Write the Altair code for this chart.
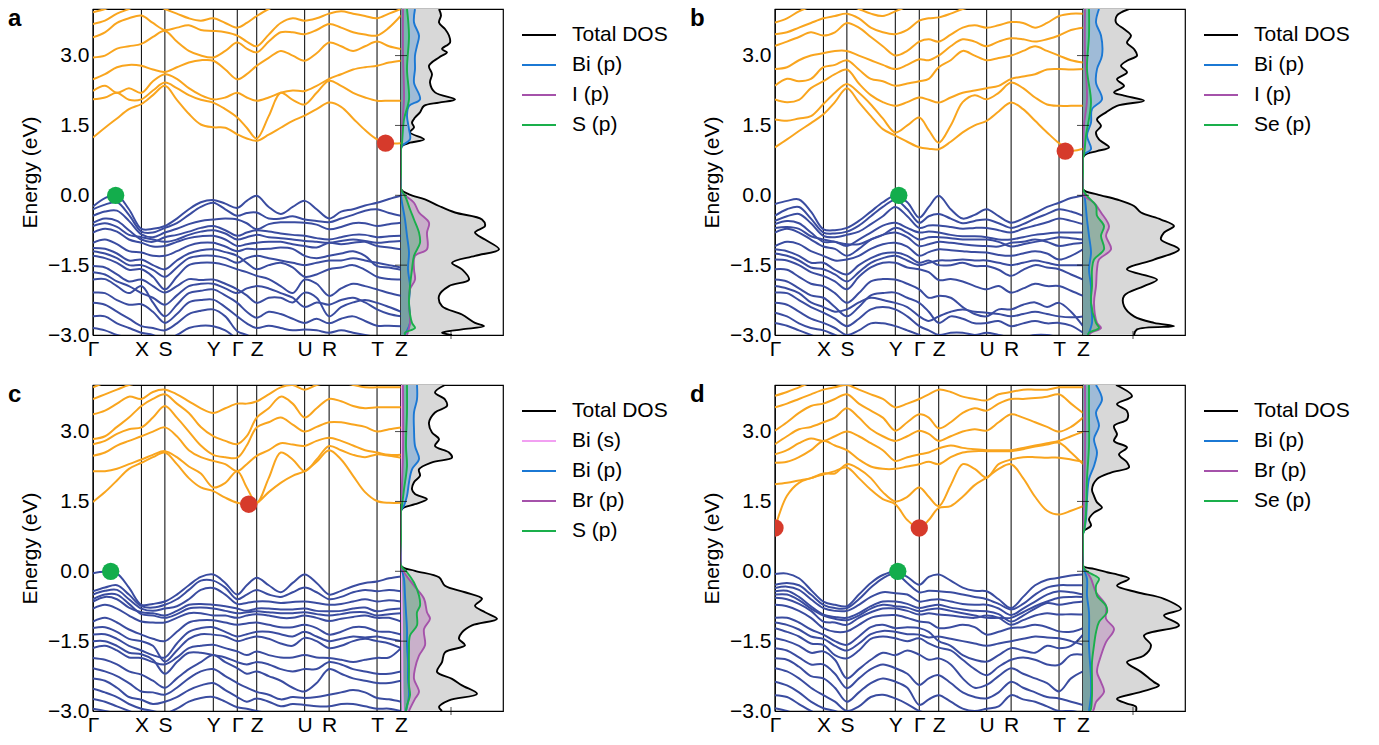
import altair as alt
import pandas as pd

# ---------------- k-path ----------------
K = [0, 12, 24, 36, 48.5, 60, 72, 84, 96, 108, 120.5, 132.5, 144.5, 154, 164,
     176, 188, 200, 212, 224, 236.5, 248.5, 260.5, 272.5, 284.5, 296.5, 308.5]
KPATH_POS = [0, 48.5, 72, 120.5, 144.5, 164, 212, 236.5, 284.5, 308.5]
KPATH_LBL = ["Γ", "X", "S", "Y", "Γ", "Z", "U", "R", "T", "Z"]
E_TICKS = [-3.0, -1.5, 0.0, 1.5, 3.0]
DOS_TICKS = [-1.5, 0.0, 1.5, 3.0]
DOS_XTICK = [50]

# ---------------- panel a bands ----------------
A_VB = [
    [-0.24,-0.06,0.00,-0.30,-0.72,-0.72,-0.66,-0.50,-0.30,-0.15,-0.10,-0.18,-0.27,-0.12,-0.01,-0.25,-0.40,-0.25,-0.12,-0.30,-0.50,-0.35,-0.30,-0.22,-0.16,-0.08,-0.01],
    [-0.30,-0.20,-0.15,-0.42,-0.78,-0.80,-0.70,-0.60,-0.42,-0.25,-0.16,-0.30,-0.44,-0.38,-0.37,-0.50,-0.50,-0.45,-0.52,-0.55,-0.58,-0.50,-0.42,-0.33,-0.30,-0.38,-0.44],
    [-0.44,-0.35,-0.33,-0.55,-0.84,-0.90,-0.80,-0.72,-0.62,-0.55,-0.52,-0.50,-0.52,-0.60,-0.73,-0.62,-0.58,-0.58,-0.59,-0.63,-0.73,-0.68,-0.60,-0.60,-0.66,-0.62,-0.59],
    [-0.59,-0.50,-0.55,-0.75,-0.95,-1.00,-0.90,-0.85,-0.78,-0.70,-0.66,-0.75,-0.87,-0.80,-0.75,-0.78,-0.82,-0.85,-0.87,-0.92,-0.95,-0.90,-0.85,-0.85,-0.90,-0.88,-0.87],
    [-0.66,-0.60,-0.68,-0.85,-0.90,-0.95,-1.00,-0.95,-0.85,-0.78,-0.75,-0.82,-0.95,-0.90,-0.85,-0.90,-0.92,-0.95,-0.98,-1.00,-1.02,-0.98,-0.95,-0.98,-1.02,-1.00,-0.98],
    [-0.80,-0.72,-0.78,-0.95,-1.02,-1.10,-1.09,-1.00,-0.92,-0.88,-0.87,-0.95,-1.09,-1.05,-1.02,-1.00,-1.00,-1.05,-1.09,-1.12,-1.02,-1.05,-1.02,-1.00,-1.09,-1.12,-1.16],
    [-1.02,-0.95,-1.05,-1.20,-1.23,-1.30,-1.30,-1.20,-1.08,-1.02,-1.02,-1.10,-1.20,-1.15,-1.16,-1.15,-1.12,-1.15,-1.30,-1.35,-1.30,-1.25,-1.20,-1.30,-1.52,-1.55,-1.60],
    [-1.13,-1.15,-1.25,-1.40,-1.38,-1.50,-1.59,-1.40,-1.25,-1.18,-1.16,-1.22,-1.30,-1.45,-1.59,-1.50,-1.45,-1.55,-1.75,-1.70,-1.59,-1.55,-1.50,-1.60,-1.75,-1.80,-1.81],
    [-1.20,-1.25,-1.35,-1.50,-1.50,-1.60,-1.75,-1.55,-1.35,-1.30,-1.30,-1.35,-1.45,-1.35,-1.30,-1.35,-1.40,-1.45,-1.50,-1.45,-1.40,-1.40,-1.35,-1.40,-1.45,-1.50,-1.55],
    [-1.30,-1.35,-1.45,-1.60,-1.59,-1.75,-2.02,-1.75,-1.50,-1.45,-1.45,-1.50,-1.59,-1.65,-1.73,-1.80,-1.95,-2.10,-1.81,-1.90,-2.16,-2.00,-1.90,-1.95,-2.02,-2.10,-2.16],
    [-1.52,-1.55,-1.70,-1.85,-1.81,-1.95,-2.09,-1.95,-1.80,-1.82,-1.81,-1.90,-2.02,-2.15,-2.31,-2.20,-2.20,-2.30,-2.09,-2.20,-2.60,-2.40,-2.30,-2.25,-2.31,-2.40,-2.50],
    [-1.65,-1.70,-1.85,-1.95,-2.10,-2.20,-2.35,-2.15,-1.95,-1.90,-1.90,-2.00,-2.10,-2.00,-1.95,-2.00,-2.10,-2.20,-2.40,-2.30,-2.35,-2.25,-2.20,-2.30,-2.45,-2.55,-2.60],
    [-1.81,-1.80,-1.95,-2.10,-1.95,-2.30,-2.60,-2.35,-2.10,-2.05,-2.02,-2.15,-2.31,-2.50,-2.63,-2.50,-2.55,-2.65,-2.74,-2.65,-2.75,-2.65,-2.60,-2.70,-2.80,-2.80,-2.81],
    [-2.09,-2.10,-2.25,-2.35,-2.34,-2.50,-2.74,-2.55,-2.30,-2.25,-2.24,-2.40,-2.60,-2.75,-2.85,-2.80,-2.85,-2.90,-2.88,-2.90,-2.95,-2.90,-2.95,-3.00,-3.05,-3.10,-3.10],
    [-2.31,-2.35,-2.50,-2.65,-2.81,-2.85,-2.90,-2.75,-2.55,-2.48,-2.45,-2.60,-2.92,-3.00,-3.10],
    [-2.60,-2.60,-2.75,-2.85,-2.95,-3.00,-3.10,-3.00,-2.85,-2.80,-2.81,-2.90,-3.10],
    [-2.85,-2.90,-3.00,-3.05,-3.10],
]
A_CB = [
    [1.24,1.45,1.65,1.85,1.96,2.15,2.35,2.05,1.75,1.52,1.46,1.45,1.31,1.22,1.17,1.30,1.45,1.60,1.71,1.85,1.99,1.90,1.65,1.40,1.20,1.12,1.12],
    [2.06,2.10,2.20,2.05,2.06,2.25,2.42,2.30,2.15,2.05,1.99,1.85,1.67,1.45,1.22,1.70,2.20,2.05,1.95,2.20,2.46,2.35,2.20,2.10,2.03,2.03,2.03],
    [2.24,2.35,2.20,2.30,2.20,2.45,2.60,2.50,2.30,2.15,2.06,2.10,2.20,2.10,2.03,2.10,2.20,2.25,2.24,2.35,2.50,2.60,2.70,2.75,2.78,2.85,2.89],
    [2.49,2.60,2.75,2.80,2.78,2.70,2.65,2.75,2.85,2.90,2.89,2.70,2.49,2.60,2.78,2.95,3.10,3.00,2.89,3.05,3.28,3.20,3.10,3.20,3.30,3.20,3.14],
    [2.96,3.00,3.15,3.20,3.25,3.40,3.53,3.30,3.10,3.00,2.96,3.10,3.28,3.15,3.07,3.30,3.50,3.50,3.46,3.55,3.68,3.60,3.50,3.45,3.43,3.60,3.86],
    [3.39,3.50,3.70,3.80,3.86,3.70,3.55,3.60,3.65,3.55,3.53,3.50,3.43,3.30,3.20,3.45,3.70,3.80,3.75,3.80,3.90,3.95,3.90,3.85,3.80,3.90,4.00],
    [3.68,3.75,3.90,4.00,4.10,4.10,4.00,3.90,3.80,3.75,3.80,3.70,3.60,3.70,3.85,4.00,4.10],
    [3.93,4.00,4.10],
]
A_VBM = [22.7, 0.0]
A_CBM = [[293.0, 1.12]]

# ---------------- panel b bands ----------------
B_VB = [
    [-0.19,-0.12,-0.09,-0.35,-0.73,-0.75,-0.70,-0.55,-0.35,-0.15,-0.01,-0.15,-0.48,-0.25,-0.01,-0.30,-0.50,-0.42,-0.30,-0.45,-0.59,-0.50,-0.38,-0.25,-0.16,-0.06,-0.01],
    [-0.44,-0.30,-0.25,-0.50,-0.80,-0.82,-0.78,-0.65,-0.45,-0.25,-0.10,-0.30,-0.59,-0.45,-0.40,-0.50,-0.60,-0.55,-0.52,-0.60,-0.70,-0.62,-0.50,-0.40,-0.30,-0.35,-0.44],
    [-0.55,-0.45,-0.40,-0.60,-0.87,-0.90,-0.85,-0.78,-0.62,-0.45,-0.25,-0.45,-0.70,-0.65,-0.65,-0.68,-0.72,-0.70,-0.70,-0.75,-0.80,-0.72,-0.65,-0.58,-0.50,-0.55,-0.62],
    [-0.62,-0.55,-0.60,-0.80,-1.00,-1.00,-1.09,-0.95,-0.80,-0.65,-0.59,-0.70,-0.80,-0.78,-0.80,-0.85,-0.88,-0.88,-0.90,-0.95,-0.95,-0.90,-0.85,-0.82,-0.80,-0.80,-0.80],
    [-0.70,-0.68,-0.72,-0.88,-0.95,-1.00,-1.05,-1.05,-0.95,-0.85,-0.70,-0.80,-0.95,-0.90,-0.90,-0.92,-0.95,-0.95,-0.95,-1.00,-1.10,-1.05,-1.00,-0.95,-0.90,-0.92,-0.95],
    [-0.80,-0.72,-0.80,-0.95,-1.10,-1.15,-1.30,-1.15,-0.95,-0.85,-0.80,-0.90,-1.09,-1.05,-1.00,-1.02,-1.05,-1.08,-1.09,-1.10,-1.02,-1.00,-0.95,-1.00,-1.09,-1.05,-1.02],
    [-1.09,-1.00,-1.05,-1.20,-1.30,-1.40,-1.38,-1.30,-1.15,-1.05,-1.02,-1.10,-1.30,-1.22,-1.16,-1.18,-1.20,-1.22,-1.23,-1.28,-1.30,-1.25,-1.20,-1.25,-1.38,-1.30,-1.16],
    [-1.16,-1.20,-1.30,-1.45,-1.45,-1.60,-1.70,-1.50,-1.35,-1.25,-1.23,-1.30,-1.45,-1.40,-1.50,-1.50,-1.45,-1.52,-1.52,-1.60,-1.73,-1.60,-1.50,-1.55,-1.59,-1.70,-1.81],
    [-1.25,-1.30,-1.40,-1.55,-1.59,-1.70,-1.85,-1.65,-1.45,-1.35,-1.30,-1.40,-1.50,-1.45,-1.40,-1.40,-1.38,-1.40,-1.40,-1.45,-1.50,-1.45,-1.40,-1.45,-1.50,-1.50,-1.50],
    [-1.38,-1.40,-1.50,-1.65,-1.73,-1.85,-2.02,-1.75,-1.55,-1.45,-1.45,-1.55,-1.59,-1.65,-1.82,-1.80,-1.85,-1.95,-2.02,-1.95,-2.09,-2.00,-1.90,-1.95,-1.95,-2.05,-2.16],
    [-1.59,-1.60,-1.75,-1.90,-1.95,-2.10,-2.31,-2.10,-1.85,-1.80,-1.81,-1.90,-2.02,-2.20,-2.16,-2.20,-2.40,-2.55,-2.60,-2.45,-2.45,-2.35,-2.30,-2.40,-2.31,-2.50,-2.81],
    [-1.81,-1.85,-2.00,-2.15,-2.20,-2.40,-2.60,-2.40,-2.15,-2.10,-2.09,-2.20,-2.31,-2.50,-2.74,-2.60,-2.65,-2.75,-2.74,-2.70,-2.81,-2.75,-2.70,-2.75,-2.74,-2.80,-2.95],
    [-1.95,-2.00,-2.10,-2.30,-2.40,-2.50,-2.45,-2.30,-2.20,-2.25,-2.31,-2.40,-2.60,-2.70,-2.60,-2.50,-2.45,-2.50,-2.52,-2.55,-2.60,-2.55,-2.50,-2.55,-2.60,-2.62,-2.60],
    [-2.09,-2.10,-2.25,-2.40,-2.52,-2.65,-2.81,-2.65,-2.45,-2.40,-2.45,-2.60,-2.81,-2.90,-3.00,-2.95,-2.95,-3.00,-2.95,-3.00,-3.05,-3.05,-3.00,-3.00,-3.05,-3.10,-3.10],
    [-2.31,-2.35,-2.50,-2.65,-2.74,-2.85,-3.00,-2.90,-2.75,-2.75,-2.81,-2.90,-3.00,-3.10],
    [-2.52,-2.60,-2.75,-2.85,-2.90,-3.00,-3.10],
    [-2.74,-2.80,-2.90,-3.00,-3.10],
]
B_CB = [
    [1.03,1.20,1.38,1.55,1.74,2.00,2.30,2.00,1.70,1.42,1.28,1.15,1.03,1.00,0.99,1.15,1.35,1.50,1.60,1.80,1.99,1.85,1.60,1.35,1.12,0.96,1.00],
    [1.63,1.60,1.65,1.70,1.96,2.20,2.39,2.20,1.95,1.65,1.35,1.50,1.67,1.40,1.13,1.50,2.00,2.15,2.06,2.20,2.42,2.30,2.10,1.95,1.92,1.92,1.92],
    [2.06,2.00,2.05,2.30,2.45,2.60,2.70,2.40,2.15,2.00,1.92,2.00,2.10,2.05,1.99,2.10,2.20,2.25,2.30,2.35,2.50,2.55,2.60,2.70,2.71,2.70,2.71],
    [2.35,2.50,2.45,2.50,2.75,2.80,2.90,2.70,2.50,2.45,2.35,2.40,2.45,2.50,2.75,2.90,3.10,3.00,2.90,2.95,3.00,3.10,3.20,3.10,3.00,2.90,2.85],
    [2.71,2.75,2.90,3.00,3.05,3.10,3.10,3.00,2.90,2.80,2.71,2.80,2.92,2.90,3.00,3.20,3.35,3.30,3.20,3.30,3.37,3.35,3.30,3.35,3.43,3.55,3.60],
    [3.21,3.30,3.40,3.50,3.43,3.50,3.70,3.60,3.40,3.20,3.00,3.10,3.30,3.35,3.30,3.45,3.60,3.65,3.60,3.65,3.72,3.70,3.60,3.70,3.85,3.90,3.90],
    [3.46,3.50,3.60,3.70,3.80,3.85,3.90,3.80,3.60,3.50,3.46,3.55,3.75,3.80,3.82,3.90,4.00,4.05,4.05,4.05,4.05,4.10],
    [3.71,3.80,3.95,4.05,4.10,4.10,4.10,4.00,3.90,3.85,3.95,4.05,4.10],
]
B_VBM = [124.0, 0.0]
B_CBM = [[290.7, 0.95]]

# ---------------- panel c bands ----------------
C_VB = [
    [-0.04,-0.01,-0.05,-0.35,-0.72,-0.70,-0.65,-0.50,-0.30,-0.12,-0.07,-0.25,-0.50,-0.30,-0.14,-0.30,-0.45,-0.25,-0.07,-0.25,-0.50,-0.42,-0.32,-0.25,-0.22,-0.15,-0.11],
    [-0.43,-0.35,-0.30,-0.50,-0.75,-0.78,-0.72,-0.60,-0.40,-0.20,-0.20,-0.35,-0.60,-0.50,-0.40,-0.50,-0.55,-0.45,-0.35,-0.45,-0.60,-0.55,-0.45,-0.40,-0.43,-0.40,-0.43],
    [-0.50,-0.42,-0.40,-0.60,-0.80,-0.85,-0.80,-0.75,-0.60,-0.40,-0.36,-0.50,-0.70,-0.68,-0.65,-0.65,-0.68,-0.66,-0.65,-0.68,-0.72,-0.70,-0.65,-0.60,-0.65,-0.62,-0.65],
    [-0.60,-0.50,-0.50,-0.70,-0.92,-0.95,-1.00,-0.92,-0.80,-0.78,-0.80,-0.85,-0.90,-0.88,-0.86,-0.88,-0.90,-0.90,-0.88,-0.92,-0.95,-0.92,-0.88,-0.88,-0.95,-0.92,-0.90],
    [-0.65,-0.55,-0.60,-0.78,-0.88,-0.90,-0.95,-0.85,-0.72,-0.70,-0.72,-0.75,-0.80,-0.85,-0.80,-0.80,-0.82,-0.82,-0.80,-0.85,-0.86,-0.85,-0.80,-0.78,-0.86,-0.82,-0.80],
    [-0.80,-0.72,-0.80,-0.95,-1.08,-1.10,-1.10,-1.00,-0.90,-0.90,-0.95,-0.95,-1.00,-0.95,-0.92,-0.95,-1.00,-1.00,-0.95,-1.00,-1.07,-1.02,-0.98,-0.95,-1.00,-1.00,-1.08],
    [-1.08,-1.00,-1.10,-1.25,-1.36,-1.45,-1.50,-1.30,-1.10,-1.05,-1.05,-1.10,-1.15,-1.12,-1.10,-1.15,-1.20,-1.20,-1.15,-1.22,-1.36,-1.30,-1.20,-1.20,-1.29,-1.30,-1.36],
    [-1.22,-1.20,-1.30,-1.45,-1.50,-1.60,-1.94,-1.70,-1.45,-1.35,-1.36,-1.40,-1.50,-1.45,-1.40,-1.45,-1.55,-1.60,-1.43,-1.50,-1.65,-1.60,-1.50,-1.45,-1.50,-1.55,-1.65],
    [-1.36,-1.35,-1.45,-1.60,-1.70,-1.80,-1.85,-1.55,-1.30,-1.22,-1.20,-1.30,-1.40,-1.35,-1.30,-1.30,-1.35,-1.40,-1.30,-1.40,-1.50,-1.45,-1.40,-1.42,-1.40,-1.45,-1.50],
    [-1.50,-1.50,-1.60,-1.75,-1.78,-1.90,-2.20,-1.95,-1.75,-1.75,-1.80,-1.85,-1.95,-2.00,-1.95,-2.00,-2.10,-2.15,-2.10,-2.10,-1.95,-2.00,-2.10,-2.15,-2.20,-2.20,-2.15],
    [-1.65,-1.60,-1.70,-1.85,-1.86,-1.95,-2.00,-1.85,-1.65,-1.60,-1.58,-1.65,-1.72,-1.80,-1.72,-1.80,-1.85,-1.85,-1.80,-1.85,-1.86,-1.90,-1.95,-1.90,-1.86,-1.85,-1.65],
    [-1.86,-1.90,-2.00,-2.15,-2.22,-2.35,-2.50,-2.30,-2.10,-1.95,-1.80,-1.95,-2.08,-2.20,-2.15,-2.25,-2.35,-2.50,-2.58,-2.40,-2.10,-2.20,-2.30,-2.35,-2.40,-2.40,-2.35],
    [-2.08,-2.15,-2.25,-2.40,-2.58,-2.60,-2.65,-2.50,-2.30,-2.15,-2.10,-2.25,-2.40,-2.50,-2.59,-2.65,-2.75,-2.70,-2.72,-2.70,-2.65,-2.60,-2.55,-2.60,-2.72,-2.75,-2.80],
    [-2.30,-2.35,-2.50,-2.70,-2.76,-2.85,-2.80,-2.70,-2.55,-2.45,-2.40,-2.55,-2.70,-2.80,-2.73,-2.80,-2.90,-2.85,-2.87,-2.90,-2.90,-2.85,-2.85,-2.90,-2.95,-2.95,-3.00],
    [-2.52,-2.60,-2.70,-2.85,-2.95,-3.00,-3.05,-2.95,-2.80,-2.72,-2.70,-2.80,-2.92,-2.95,-3.00,-3.05,-3.10],
    [-2.74,-2.80,-2.90,-3.00,-3.10],
    [-2.95,-3.00,-3.05,-3.10],
]
C_CB = [
    [1.49,1.70,1.95,2.20,2.33,2.45,2.55,2.30,2.00,1.80,1.72,1.58,1.47,1.44,1.47,1.70,1.90,2.05,2.15,2.35,2.60,2.40,2.05,1.70,1.51,1.47,1.47],
    [2.15,2.15,2.20,2.30,2.40,2.50,2.58,2.45,2.25,2.10,1.80,1.90,2.15,1.80,1.47,2.00,2.55,2.40,2.15,2.40,2.69,2.60,2.50,2.45,2.51,2.48,2.44],
    [2.48,2.55,2.70,2.80,2.90,3.00,3.09,2.90,2.60,2.45,2.37,2.30,2.15,2.30,2.48,2.60,2.75,2.72,2.69,2.80,2.87,2.80,2.70,2.60,2.55,2.50,2.50],
    [2.73,2.80,2.95,3.05,3.09,3.30,3.55,3.30,3.00,2.70,2.50,2.45,2.44,2.70,3.09,3.20,3.30,3.15,3.00,3.10,3.20,3.20,3.15,3.10,3.00,3.05,3.09],
    [2.84,2.90,3.10,3.30,3.55,3.70,3.80,3.60,3.40,3.10,2.90,2.80,2.73,2.90,3.30,3.50,3.75,3.60,3.30,3.50,3.70,3.65,3.55,3.50,3.52,3.52,3.52],
    [3.37,3.45,3.60,3.75,3.70,3.85,3.90,3.80,3.65,3.50,3.40,3.50,3.60,3.60,3.65,3.80,3.95,4.00,3.90,4.00,4.05,4.05,4.00,3.95,3.95,3.95,3.95],
    [3.70,3.80,3.90,4.00,4.05,4.10],
    [3.95,4.05,4.10],
]
C_VBM = [17.7, 0.0]
C_CBM = [[156.0, 1.44]]

# ---------------- panel d bands ----------------
D_VB = [
    [-0.06,-0.05,-0.15,-0.40,-0.65,-0.72,-0.75,-0.50,-0.25,-0.08,-0.01,-0.12,-0.29,-0.12,-0.07,-0.20,-0.35,-0.42,-0.43,-0.60,-0.79,-0.55,-0.30,-0.18,-0.14,-0.09,-0.07],
    [-0.29,-0.25,-0.30,-0.50,-0.72,-0.79,-0.79,-0.60,-0.35,-0.15,-0.05,-0.25,-0.45,-0.42,-0.43,-0.45,-0.50,-0.55,-0.60,-0.70,-0.82,-0.70,-0.50,-0.35,-0.30,-0.30,-0.30],
    [-0.36,-0.33,-0.40,-0.60,-0.79,-0.85,-0.85,-0.72,-0.55,-0.45,-0.47,-0.50,-0.65,-0.62,-0.60,-0.65,-0.70,-0.72,-0.72,-0.80,-0.94,-0.80,-0.65,-0.50,-0.43,-0.45,-0.50],
    [-0.43,-0.42,-0.55,-0.75,-0.93,-0.98,-1.00,-0.90,-0.75,-0.65,-0.65,-0.70,-0.79,-0.75,-0.72,-0.78,-0.82,-0.85,-0.86,-0.92,-1.08,-0.95,-0.80,-0.68,-0.72,-0.68,-0.65],
    [-0.50,-0.50,-0.62,-0.80,-0.95,-1.02,-1.05,-0.95,-0.80,-0.72,-0.75,-0.78,-0.86,-0.82,-0.80,-0.85,-0.90,-0.95,-1.00,-1.00,-1.00,-0.88,-0.75,-0.65,-0.57,-0.55,-0.55],
    [-0.57,-0.60,-0.70,-0.85,-1.08,-1.10,-1.15,-1.00,-0.88,-0.80,-0.80,-0.85,-0.93,-0.90,-0.93,-0.95,-0.98,-1.00,-0.95,-1.00,-1.15,-1.05,-0.95,-0.90,-0.93,-0.92,-0.93],
    [-0.72,-0.75,-0.85,-1.00,-1.22,-1.30,-1.29,-1.15,-1.00,-0.95,-0.94,-1.00,-1.08,-1.10,-1.22,-1.20,-1.15,-1.20,-1.36,-1.30,-1.22,-1.20,-1.15,-1.20,-1.29,-1.30,-1.22],
    [-1.00,-1.00,-1.10,-1.25,-1.36,-1.50,-1.58,-1.40,-1.20,-1.15,-1.22,-1.20,-1.22,-1.30,-1.50,-1.60,-1.80,-1.90,-1.94,-1.80,-1.65,-1.70,-1.75,-1.60,-1.65,-1.60,-1.36],
    [-1.10,-1.15,-1.25,-1.40,-1.45,-1.60,-1.70,-1.55,-1.35,-1.28,-1.30,-1.35,-1.36,-1.42,-1.40,-1.45,-1.50,-1.55,-1.60,-1.55,-1.50,-1.45,-1.40,-1.42,-1.44,-1.50,-1.58],
    [-1.22,-1.30,-1.40,-1.55,-1.58,-1.80,-1.87,-1.70,-1.45,-1.40,-1.44,-1.50,-1.44,-1.55,-1.64,-1.70,-1.90,-2.10,-2.23,-2.05,-1.90,-1.85,-1.90,-2.00,-2.01,-1.80,-1.79],
    [-1.44,-1.50,-1.60,-1.75,-1.72,-1.90,-2.30,-2.10,-1.90,-1.75,-1.80,-1.70,-1.79,-1.90,-1.87,-2.00,-2.30,-2.50,-2.44,-2.25,-2.08,-2.20,-2.30,-2.40,-2.58,-2.30,-2.15],
    [-1.65,-1.70,-1.85,-2.00,-2.00,-2.20,-2.51,-2.30,-2.10,-2.00,-2.08,-2.20,-2.44,-2.30,-2.23,-2.40,-2.60,-2.70,-2.73,-2.60,-2.37,-2.50,-2.60,-2.70,-2.73,-2.80,-2.87],
    [-1.87,-1.90,-2.05,-2.25,-2.30,-2.50,-2.80,-2.60,-2.40,-2.30,-2.37,-2.50,-2.87,-2.75,-2.66,-2.80,-2.95,-3.00,-2.95,-2.90,-2.66,-2.75,-2.80,-2.90,-3.00,-3.00,-3.05],
    [-2.08,-2.15,-2.30,-2.50,-2.66,-2.80,-3.00,-2.90,-2.70,-2.65,-2.73,-2.85,-3.00,-3.05,-3.10],
    [-2.37,-2.45,-2.60,-2.80,-2.94,-3.00,-3.10],
    [-2.66,-2.70,-2.85,-3.00,-3.10],
    [-2.94,-3.00,-3.10],
]
D_CB = [
    [0.93,1.62,1.90,2.00,2.08,2.15,2.23,2.00,1.75,1.55,1.44,1.10,0.93,1.10,1.36,1.40,1.60,1.85,2.01,2.20,2.30,2.00,1.60,1.30,1.22,1.30,1.40],
    [1.87,1.90,1.95,2.00,2.10,2.10,2.30,2.20,2.00,1.70,1.50,1.60,1.80,1.60,1.40,1.85,2.30,2.20,2.01,2.30,2.40,2.45,2.45,2.44,2.44,2.40,2.35],
    [2.33,2.35,2.45,2.60,2.80,2.70,2.60,2.40,2.25,2.20,2.20,2.25,2.30,2.35,2.30,2.45,2.55,2.58,2.58,2.58,2.58,2.62,2.68,2.72,2.76,2.55,2.30],
    [2.51,2.60,2.75,2.85,2.80,2.90,3.00,2.90,2.75,2.60,2.37,2.45,2.51,2.55,2.64,2.70,2.65,2.62,2.60,2.60,2.60,2.65,2.70,2.75,2.80,2.90,3.00],
    [2.73,2.90,3.05,3.10,3.20,3.30,3.50,3.30,3.05,2.90,2.80,2.90,3.02,2.95,2.80,2.90,3.00,3.05,3.02,3.20,3.37,3.30,3.20,3.10,3.00,3.10,3.30],
    [3.02,3.20,3.40,3.55,3.60,3.70,3.80,3.60,3.45,3.30,3.02,3.20,3.37,3.30,3.07,3.20,3.40,3.50,3.45,3.60,3.70,3.70,3.72,3.75,3.80,3.60,3.40],
    [3.52,3.60,3.70,3.80,3.90,3.95,4.00,3.90,3.80,3.70,3.52,3.60,3.70,3.80,3.90,3.85,3.75,3.70,3.67,3.80,3.85,3.90,3.90,3.90,3.95,3.95,3.95],
    [3.77,3.85,3.95,4.05,4.10],
]
D_VBM = [123.0, 0.0]
D_CBM = [[0.0, 0.93], [144.5, 0.93]]

# ---------------- DOS (energy in eV, DOS in arbitrary units) ----------------
A_TOT_E = [4.00,3.86,3.71,3.57,3.43,3.28,3.14,3.07,2.96,2.78,2.60,2.42,2.21,2.06,1.99,1.92,1.78,1.67,1.56,1.46,1.35,1.20,1.13,1.06,0.99,0.50,0.13,0.02,-0.09,-0.23,-0.37,-0.52,-0.66,-0.80,-0.95,-1.16,-1.30,-1.45,-1.59,-1.81,-1.95,-2.16,-2.38,-2.56,-2.74,-2.81,-2.88,-2.95,-3.00]
A_TOT_D = [38,40,38,44,48,49,41,46,38,28,31,29,34,54,38,23,19,14,11,13,9,23,9,1,0,0,0,8,24,38,54,81,84,74,84,98,74,51,61,68,48,38,41,61,74,83,61,41,51]
A_BIP_E = [4.00,3.71,3.43,3.21,3.00,2.71,2.42,2.06,1.92,1.71,1.42,1.20,1.06,0.99,0.50,0.13,-0.01,-0.52,-0.87,-1.23,-1.59,-1.95,-2.31,-2.74,-2.95,-3.00]
A_BIP_D = [14,13,18,16,14,14,13,19,8,6,8,9,1,0,0,0,0,4,6,8,7,9,8,9,5,4]
A_IP_E = [4.00,3.00,2.06,1.50,0.99,0.50,0.13,0.02,-0.16,-0.37,-0.59,-0.80,-1.16,-1.30,-1.59,-1.81,-2.02,-2.31,-2.74,-3.00]
A_IP_D = [2,2,3,1,0,0,0,3,13,18,28,26,26,14,13,14,9,8,9,6]
A_SP_E = [4.00,3.43,2.71,2.06,1.63,1.13,0.99,0.50,0.13,-0.01,-0.30,-0.52,-0.80,-1.02,-1.30,-1.59,-1.95,-2.31,-2.74,-2.85,-2.95,-3.00]
A_SP_D = [6,8,6,8,3,1,0,0,0,4,9,13,18,19,13,11,9,8,11,14,4,4]

B_TOT_E = [4.00,3.86,3.71,3.57,3.43,3.28,3.14,3.00,2.89,2.78,2.64,2.49,2.35,2.21,2.14,2.03,1.92,1.78,1.63,1.49,1.35,1.20,1.03,0.95,0.88,0.81,0.50,0.13,0.02,-0.09,-0.23,-0.37,-0.52,-0.66,-0.80,-0.95,-1.16,-1.38,-1.59,-1.81,-1.95,-2.16,-2.38,-2.60,-2.74,-2.81,-2.88,-3.00]
B_TOT_D = [46,34,33,41,48,44,51,54,44,38,44,34,41,31,41,61,34,23,14,18,13,16,26,14,3,0,0,0,14,34,51,58,78,91,81,78,96,71,44,74,61,41,41,51,71,91,54,51]
B_BIP_E = [4.00,3.71,3.43,3.00,2.71,2.42,2.06,1.85,1.56,1.28,0.99,0.88,0.81,0.50,0.13,-0.09,-0.52,-0.87,-1.23,-1.59,-1.95,-2.31,-2.74,-3.00]
B_BIP_D = [16,13,18,19,14,13,19,9,8,4,8,1,0,0,0,2,4,6,8,6,8,8,9,5]
B_IP_E = [4.00,3.00,2.06,1.50,0.81,0.50,0.13,-0.01,-0.16,-0.37,-0.66,-0.87,-1.16,-1.38,-1.59,-1.95,-2.31,-2.74,-2.85,-2.95,-3.00]
B_IP_D = [2,2,4,1,0,0,0,1,11,18,26,23,28,16,14,13,11,14,18,8,6]
B_SEP_E = [4.00,3.43,2.71,1.99,1.28,0.88,0.81,0.50,0.13,-0.01,-0.23,-0.44,-0.66,-0.87,-1.16,-1.38,-1.59,-1.95,-2.31,-2.74,-2.85,-2.95,-3.00]
B_SEP_D = [6,6,4,8,3,1,0,0,0,4,13,14,21,18,21,11,9,9,8,13,16,6,5]

C_TOT_E = [4.00,3.84,3.69,3.55,3.41,3.19,2.98,2.84,2.69,2.55,2.44,2.34,2.19,2.05,1.91,1.76,1.66,1.55,1.44,1.37,1.30,0.70,0.12,0.01,-0.13,-0.31,-0.45,-0.59,-0.74,-0.88,-1.02,-1.16,-1.31,-1.45,-1.59,-1.74,-1.95,-2.16,-2.31,-2.45,-2.63,-2.77,-2.91,-3.00]
C_TOT_D = [44,34,44,46,34,28,31,38,34,48,51,31,18,19,13,11,14,26,14,3,0,0,0,14,38,44,64,81,74,84,96,71,61,58,64,44,41,36,51,61,76,48,38,41]
C_BIS_E = [4.00,1.30,0.12,-1.00,-2.50,-3.00]
C_BIS_D = [1,0,0,1,1.5,2]
C_BIP_E = [4.00,3.69,3.41,3.05,2.69,2.41,2.19,1.91,1.62,1.41,1.30,0.70,0.12,-0.16,-0.52,-0.88,-1.24,-1.59,-1.95,-2.31,-2.66,-3.00]
C_BIP_D = [16,16,13,13,14,18,11,8,6,3,0,0,0,3,4,5,6,6,7,7,8,5]
C_BRP_E = [4.00,2.50,1.30,0.70,0.12,-0.02,-0.31,-0.59,-0.88,-1.02,-1.24,-1.59,-1.81,-2.09,-2.31,-2.59,-2.74,-2.95,-3.00]
C_BRP_D = [2,2,0,0,0,3,13,23,26,29,23,24,18,14,13,18,14,9,8]
C_SP_E = [4.00,3.41,2.69,2.26,1.76,1.41,1.30,0.70,0.12,-0.02,-0.24,-0.52,-0.74,-0.88,-1.16,-1.38,-1.74,-2.09,-2.45,-2.66,-2.88,-3.00]
C_SP_D = [6,6,5,6,3,1,0,0,0,6,13,18,19,16,16,9,8,8,8,9,6,5]

D_TOT_E = [4.00,3.76,3.59,3.44,3.26,3.12,2.94,2.80,2.66,2.51,2.34,2.23,2.12,1.98,1.76,1.62,1.48,1.37,1.26,1.12,0.98,0.87,0.80,0.50,0.12,0.05,-0.02,-0.09,-0.16,-0.31,-0.45,-0.59,-0.81,-0.95,-1.16,-1.38,-1.59,-1.81,-1.95,-2.16,-2.38,-2.45,-2.59,-2.74,-2.84,-2.91,-3.00]
D_TOT_D = [33,49,34,44,44,31,34,31,44,36,44,46,28,14,9,11,14,19,11,6,8,1,0,0,0,11,24,38,46,34,54,81,98,81,96,61,68,61,44,58,71,76,58,34,44,53,53]
D_BIP_E = [4.00,3.69,3.41,3.12,2.84,2.55,2.26,1.98,1.55,1.12,0.87,0.80,0.50,0.12,-0.16,-0.52,-0.88,-1.59,-2.31,-2.66,-3.00]
D_BIP_D = [13,19,13,16,11,14,11,6,4,3,1,0,0,0,4,4,6,6,8,8,6]
D_BRP_E = [4.00,2.50,0.80,0.50,0.12,-0.02,-0.16,-0.45,-0.74,-1.02,-1.24,-1.52,-1.81,-2.16,-2.38,-2.59,-2.81,-2.95,-3.00]
D_BRP_D = [2,2,0,0,0,4,8,13,23,23,31,23,18,14,18,21,13,11,10]
D_SEP_E = [4.00,3.41,2.69,1.98,1.26,0.87,0.80,0.50,0.12,0.01,-0.06,-0.16,-0.31,-0.52,-0.74,-0.88,-1.09,-1.31,-1.59,-1.95,-2.31,-2.66,-2.95,-3.00]
D_SEP_D = [6,6,6,4,3,1,0,0,0,3,9,16,13,14,23,24,16,13,11,9,9,9,8,7]

# ---------------- styles ----------------
VB_COLOR = "#3a4ca0"
CB_COLOR = "#f9a51e"
VBM_COLOR = "#13ad4c"
CBM_COLOR = "#d63a2b"
TOTAL_FILL = "#d8d8d8"
ORB_COLORS = {
    "Total DOS": "#000000",
    "Bi (s)": "#f2a0f2",
    "Bi (p)": "#1b78d4",
    "I (p)": "#a552aa",
    "Br (p)": "#a552aa",
    "S (p)": "#1aaf4b",
    "Se (p)": "#1aaf4b",
}

XS = alt.Scale(domain=[0, 308.5], nice=False, zero=False)
YS = alt.Scale(domain=[-3, 4], nice=False, zero=False)
DXS = alt.Scale(domain=[0, 102], nice=False, zero=False)
LBL = " : ".join(f"datum.value == {p} ? '{l}'" for p, l in zip(KPATH_POS, KPATH_LBL)) + " : ''"
W_BAND, W_DOS, H = 308, 102, 326
FS = 21

XAXIS = alt.Axis(values=KPATH_POS, labelExpr=LBL, ticks=False, domain=False, grid=False,
                 title=None, labelFontSize=FS, labelPadding=3, labelFlush=False,
                 labelOverlap=False, labelColor="black")
YAXIS = alt.Axis(values=E_TICKS, format=".1f", ticks=False, domain=False, grid=False,
                 title="Energy (eV)", titleFontSize=FS, titleFontWeight="normal",
                 titlePadding=7, titleColor="black", labelFontSize=FS,
                 labelPadding=4, labelColor="black")


def bands_frame(vb, cb):
    rows = []
    for kind, group in (("v", vb), ("c", cb)):
        for i, band in enumerate(group):
            for k, e in zip(K, band):
                rows.append({"k": k, "E": e, "band": f"{kind}{i}", "kind": kind})
    return pd.DataFrame(rows)


def band_chart(vb, cb, vbm, cbm, letter):
    df = bands_frame(vb, cb)
    x = alt.X("k:Q", scale=XS, axis=XAXIS)
    y = alt.Y("E:Q", scale=YS, axis=YAXIS)
    rules = alt.Chart(pd.DataFrame({"k": KPATH_POS})).mark_rule(
        color="black", strokeWidth=1).encode(x=x)
    vlines = alt.Chart(df).transform_filter("datum.kind == 'v'").mark_line(
        color=VB_COLOR, strokeWidth=2, interpolate="catmull-rom", clip=True).encode(
        x=x, y=y, detail="band:N")
    clines = alt.Chart(df).transform_filter("datum.kind == 'c'").mark_line(
        color=CB_COLOR, strokeWidth=2, interpolate="catmull-rom", clip=True).encode(
        x=x, y=y, detail="band:N")
    pts = [{"k": vbm[0], "E": vbm[1], "type": "VBM"}] + \
          [{"k": c[0], "E": c[1], "type": "CBM"} for c in cbm]
    dots = alt.Chart(pd.DataFrame(pts)).mark_circle(size=300, opacity=1, clip=True).encode(
        x=x, y=y,
        color=alt.Color("type:N", scale=alt.Scale(domain=["VBM", "CBM"],
                                                  range=[VBM_COLOR, CBM_COLOR]), legend=None))
    lett = alt.Chart(pd.DataFrame({"t": [letter]})).mark_text(
        align="left", baseline="alphabetic", fontSize=24, fontWeight="bold",
        color="black").encode(x=alt.value(-85), y=alt.value(17), text="t:N")
    return alt.layer(rules, vlines, clines, dots, lett).properties(width=W_BAND, height=H)


def dos_chart(series):
    rows = []
    for name, es, ds in series:
        for e, d in zip(es, ds):
            rows.append({"series": name, "E": e, "D": d})
    df = pd.DataFrame(rows)
    names = [s[0] for s in series]
    cols = [ORB_COLORS[n] for n in names]
    x = alt.X("D:Q", scale=DXS, axis=None, stack=None)
    y = alt.Y("E:Q", scale=YS, axis=None)
    tot = alt.Chart(df).transform_filter("datum.series == 'Total DOS'").mark_area(
        orient="horizontal", interpolate="catmull-rom", color=TOTAL_FILL, clip=True).encode(x=x, y=y)
    part = alt.Chart(df).transform_filter("datum.series != 'Total DOS'").mark_area(
        orient="horizontal", interpolate="catmull-rom", fillOpacity=0.3, clip=True).encode(
        x=x, y=y,
        fill=alt.Fill("series:N", scale=alt.Scale(domain=names[1:], range=cols[1:]), legend=None))
    lines = alt.Chart(df).mark_line(
        orient="horizontal", interpolate="catmull-rom", strokeWidth=1.9, clip=True).encode(
        x=x, y=y,
        stroke=alt.Stroke("series:N", scale=alt.Scale(domain=names, range=cols),
                          legend=alt.Legend(title=None, orient="none", legendX=120, legendY=16,
                                            symbolType="stroke", symbolSize=1156,
                                            symbolStrokeWidth=2, labelFontSize=FS,
                                            labelColor="black", labelOffset=15,
                                            rowPadding=9, clipHeight=20, labelLimit=300)),
        order=alt.Order("E:Q"))
    yt = alt.Chart(pd.DataFrame({"E": DOS_TICKS})).mark_tick(
        orient="horizontal", size=12, thickness=1, color="black").encode(
        x=alt.value(0), y=alt.Y("E:Q", scale=YS, axis=None))
    xt = alt.Chart(pd.DataFrame({"D": DOS_XTICK, "E": [-3.0]})).mark_tick(
        orient="vertical", size=8, thickness=1, color="black").encode(
        x=alt.X("D:Q", scale=DXS, axis=None), y=alt.Y("E:Q", scale=YS, axis=None))
    return alt.layer(tot, part, lines, yt, xt).properties(width=W_DOS, height=H)


def indep(c):
    return c.resolve_scale(stroke="independent", fill="independent").resolve_legend(
        stroke="independent")


def panel(vb, cb, vbm, cbm, letter, series):
    return indep(alt.hconcat(band_chart(vb, cb, vbm, cbm, letter), dos_chart(series),
                             spacing=0, bounds="flush"))


pa = panel(A_VB, A_CB, A_VBM, A_CBM, "a", [
    ("Total DOS", A_TOT_E, A_TOT_D), ("Bi (p)", A_BIP_E, A_BIP_D),
    ("I (p)", A_IP_E, A_IP_D), ("S (p)", A_SP_E, A_SP_D)])
pb = panel(B_VB, B_CB, B_VBM, B_CBM, "b", [
    ("Total DOS", B_TOT_E, B_TOT_D), ("Bi (p)", B_BIP_E, B_BIP_D),
    ("I (p)", B_IP_E, B_IP_D), ("Se (p)", B_SEP_E, B_SEP_D)])
pc = panel(C_VB, C_CB, C_VBM, C_CBM, "c", [
    ("Total DOS", C_TOT_E, C_TOT_D), ("Bi (s)", C_BIS_E, C_BIS_D),
    ("Bi (p)", C_BIP_E, C_BIP_D), ("Br (p)", C_BRP_E, C_BRP_D), ("S (p)", C_SP_E, C_SP_D)])
pd_ = panel(D_VB, D_CB, D_VBM, D_CBM, "d", [
    ("Total DOS", D_TOT_E, D_TOT_D), ("Bi (p)", D_BIP_E, D_BIP_D),
    ("Br (p)", D_BRP_E, D_BRP_D), ("Se (p)", D_SEP_E, D_SEP_D)])

row1 = indep(alt.hconcat(pa, pb, spacing=20))
row2 = indep(alt.hconcat(pc, pd_, spacing=20))
chart = indep(alt.vconcat(row1, row2, spacing=22)).properties(
    padding={"left": 7, "top": 6, "right": 5, "bottom": 5}
).configure(font="Liberation Sans").configure_view(stroke="black", strokeWidth=1.2)

chart.save("out.html", embed_options={"renderer": "svg", "actions": False})
